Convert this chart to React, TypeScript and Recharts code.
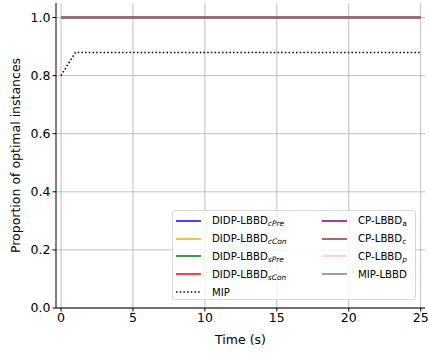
import { LineChart, Line, XAxis, YAxis, CartesianGrid } from "recharts";

const FONT = "'DejaVu Sans', sans-serif";

const times = [0, 1, 25];
const mip = [0.8, 0.88, 0.88];
const didpCPre = [1, 1, 1];
const didpCCon = [1, 1, 1];
const didpSPre = [1, 1, 1];
const didpSCon = [1, 1, 1];
const cpA = [1, 1, 1];
const cpC = [1, 1, 1];
const cpP = [1, 1, 1];
const mipLbbd = [1, 1, 1];

const xTicks = [0, 5, 10, 15, 20, 25];
const yTicks = [0, 0.2, 0.4, 0.6, 0.8, 1.0];

// lineColor: what shows on the plot where the overlapping lines blend
const SERIES = [
  { key: "didpCPre", base: "DIDP-LBBD", sub: "cPre", color: "#0000ff", values: didpCPre },
  { key: "didpCCon", base: "DIDP-LBBD", sub: "cCon", color: "#ffa500", values: didpCCon },
  { key: "didpSPre", base: "DIDP-LBBD", sub: "sPre", color: "#008000", values: didpSPre },
  { key: "didpSCon", base: "DIDP-LBBD", sub: "sCon", color: "#ff0000", values: didpSCon },
  { key: "mip", base: "MIP", sub: "", color: "#000000", values: mip, dotted: true },
  { key: "cpA", base: "CP-LBBD", sub: "a", color: "#800080", values: cpA, upright: true },
  { key: "cpC", base: "CP-LBBD", sub: "c", color: "#a52a2a", values: cpC, upright: true },
  { key: "cpP", base: "CP-LBBD", sub: "p", color: "#ffc0cb", values: cpP },
  { key: "mipLbbd", base: "MIP-LBBD", sub: "", color: "#808080", lineColor: "#857474", width: 2.4, values: mipLbbd },
];

const data = times.map((t, i) => {
  const row: any = { t };
  SERIES.forEach((s) => (row[s.key] = s.values[i]));
  return row;
});

const LegendBox = () => {
  const item = (s: any) => (
    <div key={s.key} style={{ display: "flex", alignItems: "center", height: 17.8 }}>
      <svg width={25} height={10} style={{ marginRight: 11, flexShrink: 0 }}>
        <line x1={0} x2={25} y1={5} y2={5} stroke={s.color} strokeWidth={1.5}
          strokeDasharray={s.dotted ? "1.5 2.2" : undefined} />
      </svg>
      <span style={{ fontSize: 10.2, color: "#000", whiteSpace: "nowrap" }}>
        {s.base}
        {s.sub && (
          <span style={{ fontSize: 7.5, fontStyle: s.upright ? "normal" : "italic", position: "relative", top: 2 }}>{s.sub}</span>
        )}
      </span>
    </div>
  );
  return (
    <div style={{
      position: "absolute", left: 172, top: 210, width: 244, height: 90,
      border: "1px solid #d8d8d8", borderRadius: 3, background: "rgba(255,255,255,0.8)",
      display: "flex", padding: "1px 0 0 3px", fontFamily: FONT, boxSizing: "border-box",
    }}>
      <div style={{ width: 146 }}>{SERIES.slice(0, 5).map(item)}</div>
      <div>{SERIES.slice(5).map(item)}</div>
    </div>
  );
};

export default function App() {
  return (
    <div style={{ position: "absolute", left: 0, top: 0, width: 429, height: 356, background: "#fff" }}>
      <LineChart width={429} height={356} data={data} margin={{ top: 3, right: 4, bottom: 12, left: 8 }}>
        <CartesianGrid stroke="#b0b0b0" strokeWidth={0.8} horizontalValues={yTicks} verticalValues={xTicks} />
        <XAxis dataKey="t" type="number" domain={[-0.35, 25.3]} ticks={xTicks} allowDataOverflow
          stroke="#000" tickSize={3.5} height={36}
          tick={{ fill: "#000", fontSize: 12.5, fontFamily: FONT }}
          label={{ value: "Time (s)", position: "insideBottom", offset: 0, fill: "#000", fontSize: 12.5, fontFamily: FONT }} />
        <XAxis xAxisId="top" orientation="top" dataKey="t" type="number" domain={[-0.35, 25.3]} height={0}
          tick={false} tickLine={false} stroke="#000" />
        <YAxis type="number" domain={[0, 1.05]} ticks={yTicks} allowDataOverflow width={48}
          stroke="#000" tickSize={3.5} tickFormatter={(v: number) => v.toFixed(1)}
          tick={{ fill: "#000", fontSize: 12.5, fontFamily: FONT }}
          label={{ value: "Proportion of optimal instances", angle: -90, position: "insideLeft", offset: 8,
            style: { textAnchor: "middle" }, fill: "#000", fontSize: 12.5, fontFamily: FONT }} />
        <YAxis yAxisId="right" orientation="right" domain={[0, 1.05]} width={0}
          tick={false} tickLine={false} stroke="#000" />
        {SERIES.map((s) => (
          <Line key={s.key} dataKey={s.key} type="linear" stroke={s.lineColor || s.color}
            strokeWidth={s.width || 1.5}
            strokeDasharray={s.dotted ? "1.5 2.2" : undefined}
            dot={false} isAnimationActive={false} />
        ))}
      </LineChart>
      <LegendBox />
    </div>
  );
}
